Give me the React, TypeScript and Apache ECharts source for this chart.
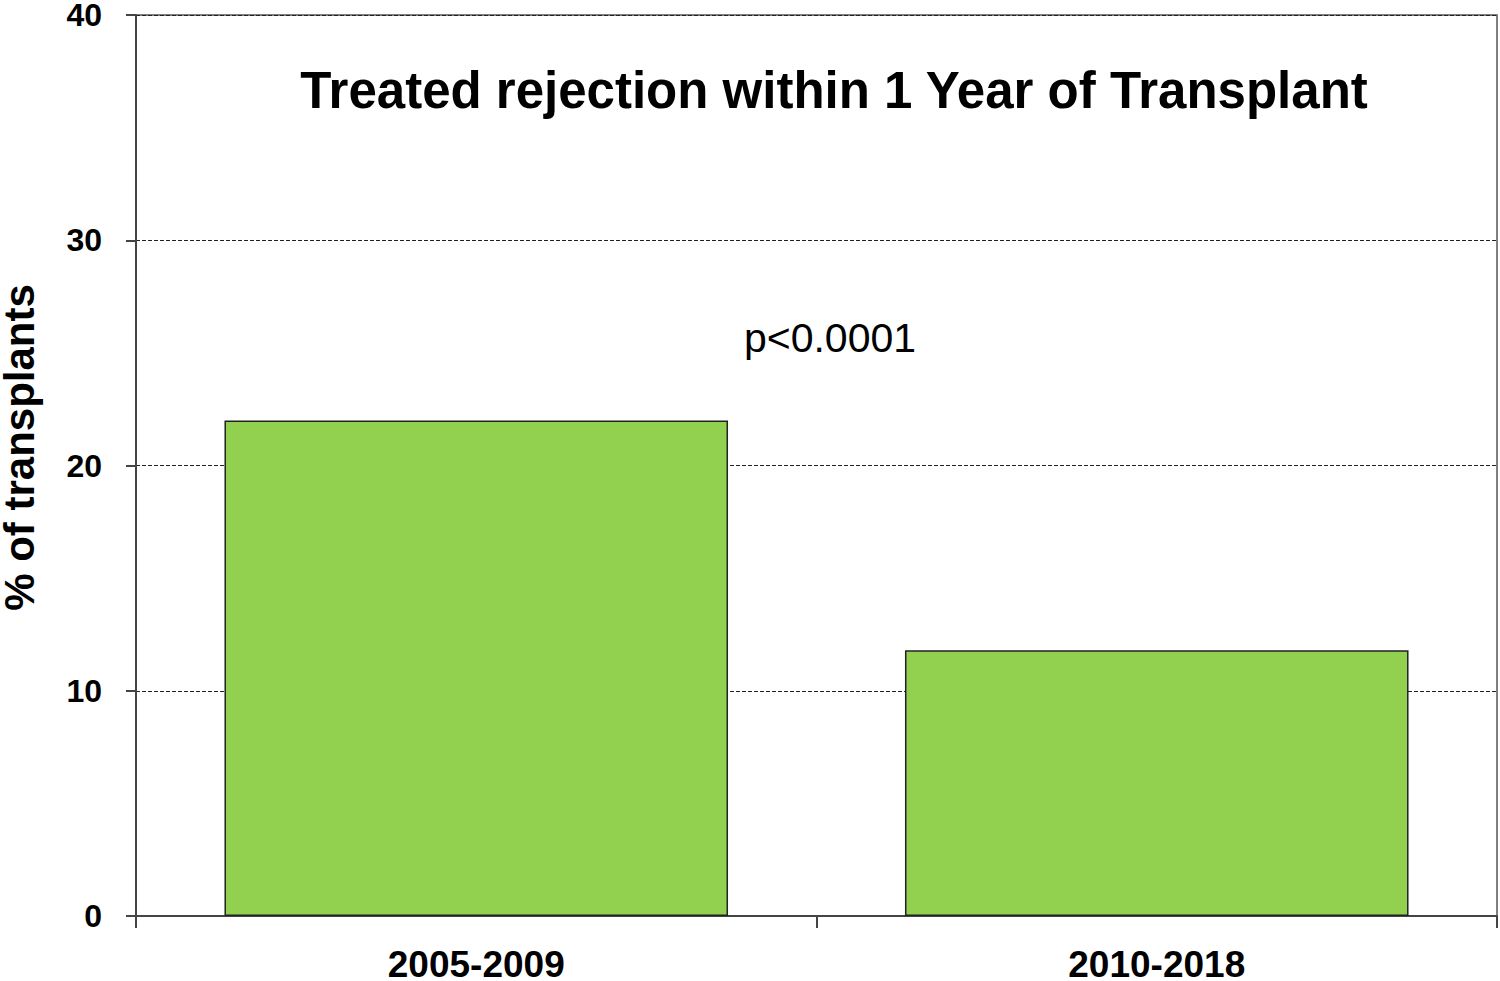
import React, { useEffect, useRef } from "react";
import * as echarts from "echarts";

const categories = ["2005-2009", "2010-2018"];
const values = [22.0, 11.8];
const yTicks = { min: 0, max: 40, interval: 10 };
const titleText = "Treated rejection within 1 Year of Transplant";
const pText = "p<0.0001";
const yName = "% of transplants";

export default function App() {
  const ref = useRef<HTMLDivElement>(null);
  useEffect(() => {
    if (!ref.current) return;
    const chart = echarts.init(ref.current, null, { renderer: "svg" });
    const font = "'Liberation Sans', Arial, sans-serif";
    chart.setOption({
      animation: false,
      backgroundColor: "#ffffff",
      textStyle: { fontFamily: font },
      grid: {
        left: 136,
        right: 3,
        top: 15,
        bottom: 65,
        containLabel: false,
        outerBoundsMode: "none",
        show: true,
        borderColor: "#555",
        borderWidth: 1.5,
        backgroundColor: "transparent",
      },
      graphic: [
        {
          type: "text",
          x: 834,
          y: 90,
          style: {
            text: titleText,
            font: `bold 51px ${font}`,
            fill: "#000",
            align: "center",
            verticalAlign: "middle",
          },
        },
        {
          type: "text",
          x: 830,
          y: 338,
          style: {
            text: pText,
            font: `41px ${font}`,
            fill: "#000",
            align: "center",
            verticalAlign: "middle",
          },
        },
      ],
      xAxis: {
        type: "category",
        data: categories,
        boundaryGap: true,
        axisLine: { show: true, lineStyle: { color: "#444", width: 2 } },
        axisTick: { show: true, length: 12, lineStyle: { color: "#444", width: 2 } },
        axisLabel: {
          color: "#000",
          fontSize: 37,
          lineHeight: 30,
          fontWeight: "bold",
          fontFamily: font,
          margin: 33,
        },
        splitLine: { show: false },
      },
      yAxis: {
        type: "value",
        min: yTicks.min,
        max: yTicks.max,
        interval: yTicks.interval,
        name: yName,
        nameLocation: "middle",
        nameRotate: 90,
        nameGap: 100,
        nameTextStyle: {
          color: "#000",
          fontSize: 42,
          lineHeight: 34,
          fontWeight: "bold",
          fontFamily: font,
          padding: [0, 0, 0, 36],
        },
        axisLine: { show: true, lineStyle: { color: "#444", width: 2 } },
        axisTick: { show: true, length: 10, lineStyle: { color: "#444", width: 2 } },
        axisLabel: {
          color: "#000",
          fontSize: 32,
          lineHeight: 28,
          fontWeight: "bold",
          fontFamily: font,
          margin: 34,
        },
        splitLine: {
          show: true,
          lineStyle: { color: "#222", width: 1.2, type: [4, 2] },
        },
      },
      series: [
        {
          type: "bar",
          data: values,
          barWidth: "74%",
          itemStyle: { color: "#92D050", borderColor: "#222", borderWidth: 1.5 },
        },
      ],
    });
    return () => chart.dispose();
  }, []);
  return (
    <div
      ref={ref}
      style={{ position: "fixed", left: 0, top: 0, width: 1500, height: 981 }}
    />
  );
}
